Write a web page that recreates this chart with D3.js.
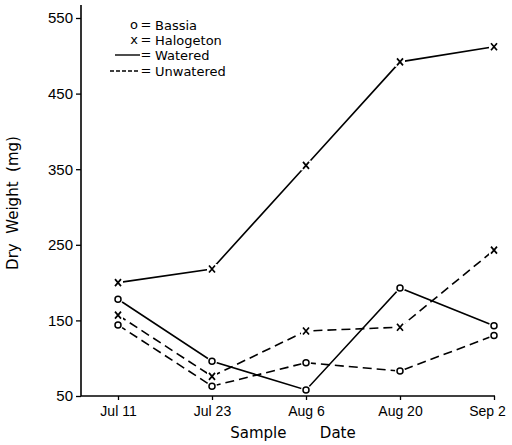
<!DOCTYPE html>
<meta charset="utf-8">
<script src="https://d3js.org/d3.v7.min.js"></script>
<style>
  body { margin: 0; background: #fff; }
  svg { font-family: 'DejaVu Sans', sans-serif; }
  .tick text { font-size: 15px; fill: #000; }
  .tick line { stroke: #000; stroke-width: 1.3; }
  .leg { font-size: 13px; fill: #000; }
</style>
<div id="chart"></div>
<script>
// sample dates (x categories)
var dates = ["Jul 11", "Jul 23", "Aug 6", "Aug 20", "Sep 2"];
var yTicks = [50, 150, 250, 350, 450, 550];

// dry weight (mg)
var halogetonWatered   = [200, 218, 355, 492, 512];
var bassiaWatered      = [178, 96, 58, 193, 143];
var halogetonUnwatered = [157, 76, 136, 141, 243];
var bassiaUnwatered    = [144, 63, 94, 83, 130];

var series = [
  {values: halogetonWatered,   marker: "x", dashed: false},
  {values: bassiaWatered,      marker: "o", dashed: false},
  {values: halogetonUnwatered, marker: "x", dashed: true},
  {values: bassiaUnwatered,    marker: "o", dashed: true}
];

var W = 512, H = 445;
var svg = d3.select("#chart").append("svg")
    .attr("width", W).attr("height", H);

var x = d3.scalePoint().domain(dates).range([118, 494]);
var y = d3.scaleLinear().domain([50, 550]).range([396, 18]);

// Y axis
var yAxis = svg.append("g")
    .attr("transform", "translate(81,0)")
    .call(d3.axisLeft(y).tickValues(yTicks).tickSize(5).tickPadding(3));
yAxis.select(".domain").remove();
svg.append("line")
    .attr("x1", 81).attr("x2", 81)
    .attr("y1", y(550) - 13).attr("y2", y(50))
    .attr("stroke", "#000").attr("stroke-width", 1.6);

// X axis
var xAxis = svg.append("g")
    .attr("transform", "translate(0,396)")
    .call(d3.axisBottom(x).tickSize(4).tickPadding(6));
xAxis.select(".domain").remove();
xAxis.selectAll(".tick text").style("font-size", "14px");
// last label sits flush with the right edge in the original
xAxis.selectAll(".tick text").filter(function(d) { return d === "Sep 2"; })
    .attr("dx", -7);
svg.append("line")
    .attr("x1", 81).attr("x2", x("Sep 2") + 1)
    .attr("y1", 396).attr("y2", 396)
    .attr("stroke", "#000").attr("stroke-width", 1.6);

// axis titles
svg.append("text")
    .attr("transform", "translate(18," + 203 + ") rotate(-90)")
    .attr("text-anchor", "middle")
    .style("font-size", "15px")
    .attr("xml:space", "preserve")
    .text("Dry  Weight  (mg)");

svg.append("text")
    .attr("x", 293).attr("y", 438)
    .attr("text-anchor", "middle")
    .style("font-size", "15px")
    .attr("xml:space", "preserve")
    .text("Sample       Date");

// lines
var line = d3.line()
    .x(function(d, i) { return x(dates[i]); })
    .y(function(d) { return y(d); });

series.forEach(function(s) {
  svg.append("path")
      .datum(s.values)
      .attr("d", line)
      .attr("fill", "none")
      .attr("stroke", "#000")
      .attr("stroke-width", 1.6)
      .attr("stroke-dasharray", s.dashed ? "9,5" : null);
});

// markers, with a white halo so lines stop short of them
series.forEach(function(s) {
  var g = svg.append("g");
  s.values.forEach(function(v, i) {
    var cx = x(dates[i]), cy = y(v);
    if (s.marker === "o") {
      g.append("circle").attr("cx", cx).attr("cy", cy).attr("r", 5)
          .attr("fill", "#fff").attr("stroke", "none");
      g.append("circle").attr("cx", cx).attr("cy", cy).attr("r", 3)
          .attr("fill", "#fff").attr("stroke", "#000").attr("stroke-width", 1.5);
    } else {
      g.append("rect").attr("x", cx - 5).attr("y", cy - 5)
          .attr("width", 10).attr("height", 10).attr("fill", "#fff");
      g.append("path")
          .attr("d", "M" + (cx - 3) + "," + (cy - 3.5) + "L" + (cx + 3) + "," + (cy + 3.5) +
                     "M" + (cx + 3) + "," + (cy - 3.5) + "L" + (cx - 3) + "," + (cy + 3.5))
          .attr("stroke", "#000").attr("stroke-width", 1.7);
    }
  });
});

// legend
var legend = svg.append("g");
var legRows = [
  {sym: "o", label: "Bassia", y: 25},
  {sym: "x", label: "Halogeton", y: 40},
  {sym: "solid", label: "Watered", y: 55},
  {sym: "dash", label: "Unwatered", y: 71}
];
legRows.forEach(function(r) {
  if (r.sym === "o" || r.sym === "x") {
    legend.append("text").attr("class", "leg")
        .attr("x", 134).attr("y", r.y + 4).attr("text-anchor", "middle").text(r.sym);
  } else {
    legend.append("line")
        .attr("x1", r.sym === "dash" ? 110 : 115).attr("x2", 140)
        .attr("y1", r.y).attr("y2", r.y)
        .attr("stroke", "#000").attr("stroke-width", 1.4)
        .attr("stroke-dasharray", r.sym === "dash" ? "4,2" : null);
  }
  legend.append("text").attr("class", "leg")
      .attr("x", 146).attr("y", r.y + 4).attr("text-anchor", "middle").text("=");
  legend.append("text").attr("class", "leg")
      .attr("x", 155).attr("y", r.y + 5).text(r.label);
});
</script>
